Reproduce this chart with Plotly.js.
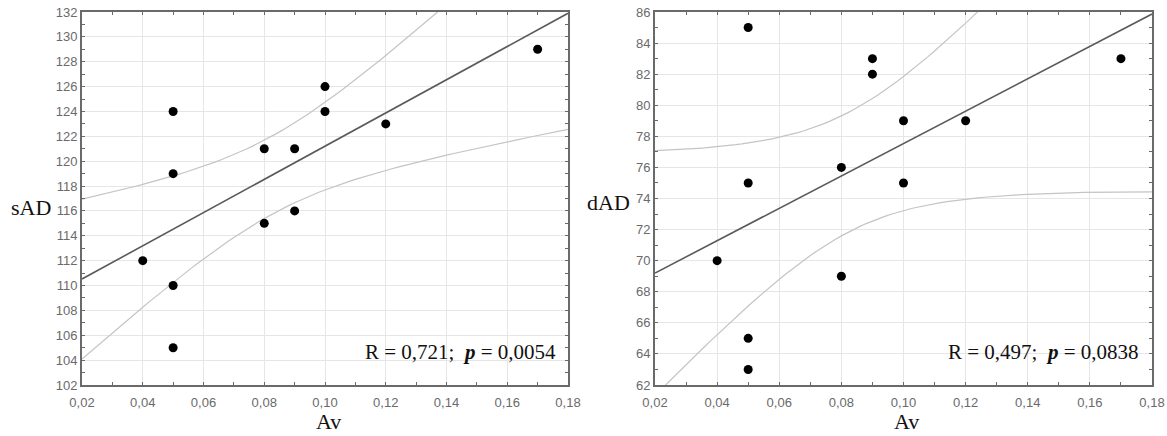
<!DOCTYPE html>
<html>
<head>
<meta charset="utf-8">
<script src="https://cdn.plot.ly/plotly-3.0.1.min.js"></script>
<style>html,body{margin:0;padding:0;background:#fff;}#chart{width:1167px;height:436px;}</style>
</head>
<body>
<div id="chart"></div>
<script>
// Data
const avLeft = [0.04, 0.05, 0.05, 0.05, 0.05, 0.08, 0.08, 0.09, 0.09, 0.10, 0.10, 0.12, 0.17];
const sAD    = [112, 124, 119, 110, 105, 121, 115, 121, 116, 126, 124, 123, 129];
const avRight = [0.04, 0.05, 0.05, 0.05, 0.05, 0.08, 0.08, 0.09, 0.09, 0.10, 0.10, 0.12, 0.17];
const dAD     = [70, 85, 75, 65, 63, 76, 69, 83, 82, 79, 75, 79, 83];
const xTickVals = [0.02, 0.04, 0.06, 0.08, 0.10, 0.12, 0.14, 0.16, 0.18];
const statsLeft = "R = 0,721;  <b><i>p</i></b> = 0,0054";
const statsRight = "R = 0,497;  <b><i>p</i></b> = 0,0838";
const xRange = [0.02, 0.18];

// Least-squares fit with 95% confidence band for the mean, computed from the points
function fitBands(x, y, lo, hi, n) {
  const N = x.length;
  const mx = x.reduce((a,b)=>a+b,0)/N, my = y.reduce((a,b)=>a+b,0)/N;
  let sxx=0, sxy=0;
  for (let i=0;i<N;i++){ sxx+=(x[i]-mx)**2; sxy+=(x[i]-mx)*(y[i]-my); }
  const b = sxy/sxx, a = my - b*mx;
  let sse=0; for (let i=0;i<N;i++){ sse += (y[i]-(a+b*x[i]))**2; }
  const s = Math.sqrt(sse/(N-2));
  const t = 2.201; // t(0.975, df=11)
  const xs=[], yf=[], yu=[], yl=[];
  for (let k=0;k<=n;k++){
    const xv = lo + (hi-lo)*k/n;
    const f = a + b*xv;
    const h = t*s*Math.sqrt(1/N + (xv-mx)**2/sxx);
    xs.push(xv); yf.push(f); yu.push(f+h); yl.push(f-h);
  }
  return {xs, yf, yu, yl};
}

const L = fitBands(avLeft, sAD, xRange[0], xRange[1], 80);
const R = fitBands(avRight, dAD, xRange[0], xRange[1], 80);

const bandStyle = {color:'#c4c4c4', width:1.2};
const fitStyle = {color:'#5a5a5a', width:1.6};
const ptStyle = {color:'#000', size:9};

const traces = [
  {x:L.xs, y:L.yu, mode:'lines', line:bandStyle, xaxis:'x', yaxis:'y', hoverinfo:'skip'},
  {x:L.xs, y:L.yl, mode:'lines', line:bandStyle, xaxis:'x', yaxis:'y', hoverinfo:'skip'},
  {x:L.xs, y:L.yf, mode:'lines', line:fitStyle, xaxis:'x', yaxis:'y', hoverinfo:'skip'},
  {x:avLeft, y:sAD, mode:'markers', marker:ptStyle, xaxis:'x', yaxis:'y'},
  {x:R.xs, y:R.yu, mode:'lines', line:bandStyle, xaxis:'x2', yaxis:'y2', hoverinfo:'skip'},
  {x:R.xs, y:R.yl, mode:'lines', line:bandStyle, xaxis:'x2', yaxis:'y2', hoverinfo:'skip'},
  {x:R.xs, y:R.yf, mode:'lines', line:fitStyle, xaxis:'x2', yaxis:'y2', hoverinfo:'skip'},
  {x:avRight, y:dAD, mode:'markers', marker:ptStyle, xaxis:'x2', yaxis:'y2'}
];

const tickFont = {family:'Liberation Sans, Arial, sans-serif', size:13, color:'#6a6a6a'};
function xAxis(domain, anchor){
  return {domain, anchor, range:xRange, tickvals:xTickVals, tickformat:'.2f',
    showgrid:true, gridcolor:'#e6e6e6', gridwidth:1, zeroline:false,
    showline:true, linecolor:'#6a6a6a', linewidth:2, mirror:'ticks',
    ticks:'inside', ticklen:3, tickcolor:'#6a6a6a', tickfont:tickFont, ticklabelstandoff:4,
    minor:{dtick:0.01, ticks:'inside', ticklen:3, tickcolor:'#6a6a6a', showgrid:false},
    fixedrange:true};
}
function yAxis(domain, anchor, range){
  return {domain, anchor, range, dtick:2, tick0:range[0],
    showgrid:true, gridcolor:'#e6e6e6', gridwidth:1, zeroline:false,
    showline:true, linecolor:'#6a6a6a', linewidth:2, mirror:'ticks',
    ticks:'inside', ticklen:3, tickcolor:'#6a6a6a', tickfont:tickFont,
    minor:{dtick:1, ticks:'inside', ticklen:3, tickcolor:'#6a6a6a', showgrid:false},
    fixedrange:true};
}

const W = 1167, H = 436;
const yDom = [1-385/H, 1-12/H];
const serif = 'Liberation Serif, Times New Roman, serif';
const layout = {
  width:W, height:H, margin:{l:0, r:0, t:0, b:0},
  paper_bgcolor:'#fff', plot_bgcolor:'#fff', showlegend:false,
  separators:',.',
  xaxis: xAxis([82/W, 568/W], 'y'),
  yaxis: yAxis(yDom, 'x', [102, 132]),
  xaxis2: xAxis([655/W, 1152/W], 'y2'),
  yaxis2: yAxis(yDom, 'x2', [62, 86]),
  annotations:[
    {text:statsLeft, xref:'paper', yref:'paper', x:558/W, y:1-352/H, xanchor:'right', yanchor:'middle', showarrow:false, font:{family:serif, size:21, color:'#111'}},
    {text:statsRight, xref:'paper', yref:'paper', x:1141/W, y:1-352/H, xanchor:'right', yanchor:'middle', showarrow:false, font:{family:serif, size:21, color:'#111'}},
    {text:'sAD', xref:'paper', yref:'paper', x:31/W, y:1-207/H, xanchor:'center', yanchor:'middle', showarrow:false, font:{family:serif, size:22, color:'#111'}},
    {text:'dAD', xref:'paper', yref:'paper', x:608/W, y:1-203/H, xanchor:'center', yanchor:'middle', showarrow:false, font:{family:serif, size:22, color:'#111'}},
    {text:'Av', xref:'paper', yref:'paper', x:328/W, y:1-421/H, xanchor:'center', yanchor:'middle', showarrow:false, font:{family:serif, size:22, color:'#111'}},
    {text:'Av', xref:'paper', yref:'paper', x:907/W, y:1-421/H, xanchor:'center', yanchor:'middle', showarrow:false, font:{family:serif, size:22, color:'#111'}}
  ]
};

Plotly.newPlot('chart', traces, layout, {displayModeBar:false, staticPlot:true});
</script>
</body>
</html>
